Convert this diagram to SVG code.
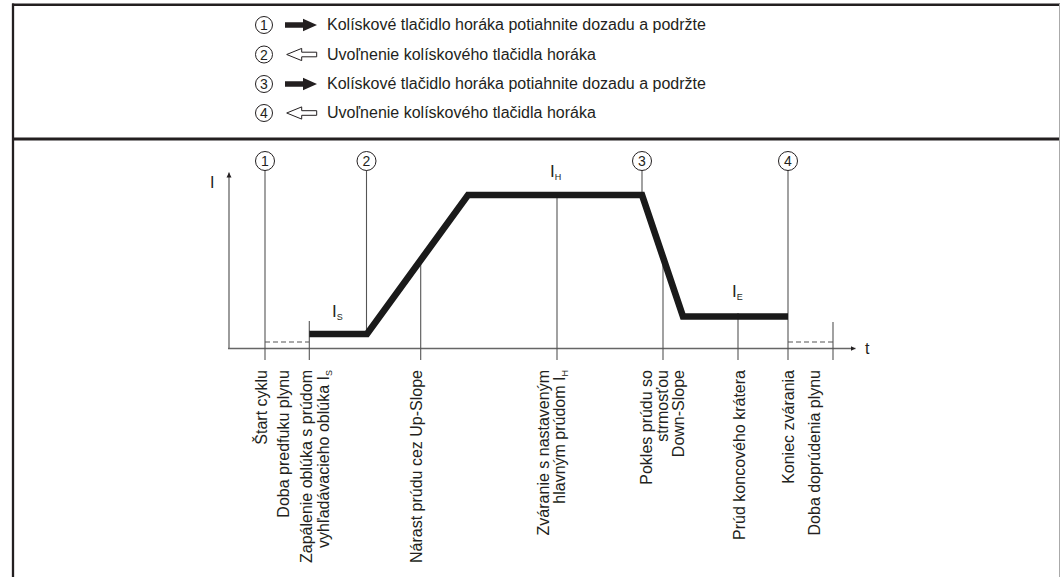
<svg xmlns="http://www.w3.org/2000/svg" width="1060" height="577" viewBox="0 0 1060 577">
<style>
text{font-family:"Liberation Sans",Arial,sans-serif;fill:#231f20}
.lg{font-size:16px}
.rl{font-size:16px;text-anchor:end}
.num{font-size:14px;text-anchor:middle}
.circ{fill:#fff;stroke:#231f20;stroke-width:1}
.thin{stroke:#555;stroke-width:1.1;fill:none}
.dash{stroke:#555;stroke-width:1.1;stroke-dasharray:5,3;fill:none}
.axis{stroke:#666;stroke-width:1.3;fill:none}
.big{font-size:17px}
.sub{font-size:9px}
</style>
<defs>
<marker id="ah" markerWidth="6" markerHeight="6" refX="5" refY="3" orient="auto" markerUnits="userSpaceOnUse">
<path d="M0,0.5 L5,3 L0,5.5 Z" fill="#231f20"/>
</marker>
</defs>
<g id="frame">
<line x1="12" y1="4.7" x2="1060" y2="4.7" stroke="#231f20" stroke-width="2.5"/>
<line x1="13" y1="3.5" x2="13" y2="577" stroke="#231f20" stroke-width="2.3"/>
<line x1="1059.5" y1="4" x2="1059.5" y2="577" stroke="#aaa" stroke-width="1"/>
<line x1="12" y1="139" x2="1059" y2="139" stroke="#231f20" stroke-width="3"/>
</g>
<g id="legend">
<g id="legend-1">
<circle class="circ" cx="264" cy="25" r="8.5"/><text class="num" x="264" y="30">1</text>
<path d="M285,22.3 H303 V18.7 L317,25 L303,31.3 V27.7 H285 Z" fill="#231f20"/>
<text class="lg" x="327" y="30">Kolískové tlačidlo horáka potiahnite dozadu a podržte</text>
</g>
<g id="legend-2">
<circle class="circ" cx="264" cy="54.5" r="8.5"/><text class="num" x="264" y="59.5">2</text>
<path d="M286.7,54.5 L301.7,48.4 V52.2 H316.7 V56.8 H301.7 V60.6 Z" fill="#fff" stroke="#231f20" stroke-width="1"/>
<text class="lg" x="327" y="60">Uvoľnenie kolískového tlačidla horáka</text>
</g>
<g id="legend-3">
<circle class="circ" cx="264" cy="84" r="8.5"/><text class="num" x="264" y="89">3</text>
<path d="M285,81.3 H303 V77.7 L317,84 L303,90.3 V86.7 H285 Z" fill="#231f20"/>
<text class="lg" x="327" y="89">Kolískové tlačidlo horáka potiahnite dozadu a podržte</text>
</g>
<g id="legend-4">
<circle class="circ" cx="264" cy="113" r="8.5"/><text class="num" x="264" y="118">4</text>
<path d="M286.7,113 L301.7,106.9 V110.7 H316.7 V115.3 H301.7 V119.1 Z" fill="#fff" stroke="#231f20" stroke-width="1"/>
<text class="lg" x="327" y="118">Uvoľnenie kolískového tlačidla horáka</text>
</g>
</g>
<g id="connectors">
<line class="axis" x1="229" y1="349" x2="229" y2="172.5" marker-end="url(#ah)"/>
<line class="axis" x1="228" y1="348.5" x2="855.5" y2="348.5" marker-end="url(#ah)"/>
<line class="thin" x1="265" y1="170" x2="265" y2="360"/>
<line class="thin" x1="309.3" y1="321" x2="309.3" y2="360"/>
<line class="thin" x1="366.5" y1="170" x2="366.5" y2="333"/>
<line class="thin" x1="420.7" y1="262" x2="420.7" y2="360"/>
<line class="thin" x1="557" y1="195" x2="557" y2="360"/>
<line class="thin" x1="642" y1="170" x2="642" y2="195"/>
<line class="thin" x1="663" y1="258" x2="663" y2="360"/>
<line class="thin" x1="738" y1="313" x2="738" y2="360"/>
<line class="thin" x1="788" y1="170" x2="788" y2="360"/>
<line class="thin" x1="833" y1="322" x2="833" y2="360"/>
<line class="dash" x1="265" y1="342" x2="309" y2="342"/>
<line class="dash" x1="788" y1="342" x2="833" y2="342"/>
<path d="M309.3,334 L367,334 L468,195 L642,195 L683,316.5 L788,316.5" fill="none" stroke="#1a1a1a" stroke-width="6.7" stroke-linejoin="miter"/>
</g>
<g id="markers">
<g id="m1"><circle class="circ" cx="265" cy="161" r="9.5"/><text class="num" x="265" y="166">1</text></g>
<g id="m2"><circle class="circ" cx="366.5" cy="161" r="9.5"/><text class="num" x="366.5" y="166">2</text></g>
<g id="m3"><circle class="circ" cx="642" cy="161" r="9.5"/><text class="num" x="642" y="166">3</text></g>
<g id="m4"><circle class="circ" cx="788" cy="161" r="9.5"/><text class="num" x="788" y="166">4</text></g>
</g>
<g id="axis-labels">
<text class="lg" x="210" y="188">I</text>
<text class="lg" x="865" y="354">t</text>
<text class="big" x="332" y="317">I<tspan class="sub" dy="3">S</tspan></text>
<text class="big" x="550" y="177">I<tspan class="sub" dy="3">H</tspan></text>
<text class="big" x="732" y="297">I<tspan class="sub" dy="3">E</tspan></text>
</g>
<g id="labels">
<text class="rl" transform="translate(266.5,370) rotate(-90)">Štart cyklu</text>
<text class="rl" transform="translate(288.5,370) rotate(-90)">Doba predfuku plynu</text>
<text class="rl" transform="translate(311.5,370) rotate(-90)">Zapálenie oblúka s prúdom</text>
<text class="rl" transform="translate(328.5,370) rotate(-90)">vyhľadávacieho oblúka I<tspan font-size="9" dy="3">S</tspan></text>
<text class="rl" transform="translate(422,370) rotate(-90)">Nárast prúdu cez Up-Slope</text>
<text class="rl" transform="translate(548.5,370) rotate(-90)">Zváranie s nastaveným</text>
<text class="rl" transform="translate(565,370) rotate(-90)">hlavným prúdom I<tspan font-size="9" dy="3">H</tspan></text>
<text class="rl" transform="translate(651.5,370) rotate(-90)">Pokles prúdu so</text>
<text class="rl" transform="translate(668,370) rotate(-90)">strmosťou</text>
<text class="rl" transform="translate(683.5,370) rotate(-90)">Down-Slope</text>
<text class="rl" transform="translate(744.5,370) rotate(-90)">Prúd koncového krátera</text>
<text class="rl" transform="translate(794,370) rotate(-90)">Koniec zvárania</text>
<text class="rl" transform="translate(820,370) rotate(-90)">Doba doprúdenia plynu</text>
</g>
</svg>
